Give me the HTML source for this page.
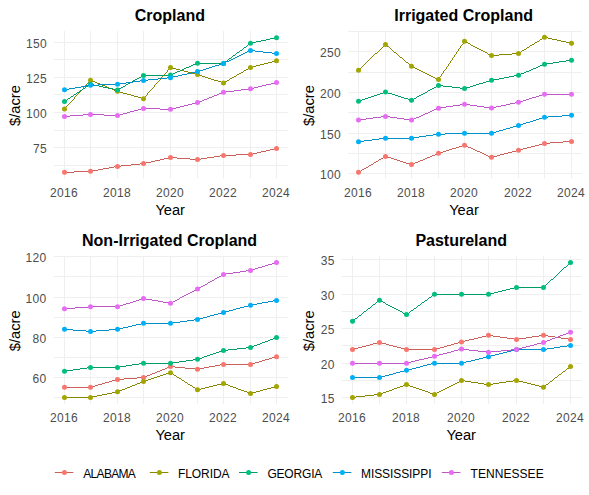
<!DOCTYPE html><html><head><meta charset="utf-8"><style>html,body{margin:0;padding:0;background:#fff;}svg{display:block;}text{font-family:"Liberation Sans",sans-serif;}</style></head><body>
<svg width="589" height="495" viewBox="0 0 589 495">
<rect width="589" height="495" fill="#fff"/>
<g stroke="#EFEFEF" stroke-width="1"><line x1="54" y1="165.5" x2="287.5" y2="165.5"/><line x1="54" y1="130.5" x2="287.5" y2="130.5"/><line x1="54" y1="94.5" x2="287.5" y2="94.5"/><line x1="54" y1="59.5" x2="287.5" y2="59.5"/><line x1="54" y1="147.5" x2="287.5" y2="147.5"/><line x1="54" y1="112.5" x2="287.5" y2="112.5"/><line x1="54" y1="77.5" x2="287.5" y2="77.5"/><line x1="54" y1="42.5" x2="287.5" y2="42.5"/><line x1="64.5" y1="31" x2="64.5" y2="178.5"/><line x1="90.5" y1="31" x2="90.5" y2="178.5"/><line x1="117.5" y1="31" x2="117.5" y2="178.5"/><line x1="143.5" y1="31" x2="143.5" y2="178.5"/><line x1="170.5" y1="31" x2="170.5" y2="178.5"/><line x1="197.5" y1="31" x2="197.5" y2="178.5"/><line x1="223.5" y1="31" x2="223.5" y2="178.5"/><line x1="250.5" y1="31" x2="250.5" y2="178.5"/><line x1="276.5" y1="31" x2="276.5" y2="178.5"/></g>
<path fill="#CB6059" shape-rendering="crispEdges" d="M274 148h3v1h-3zM270 149h4v1h-4zM266 150h4v1h-4zM261 151h5v1h-5zM257 152h4v1h-4zM253 153h4v1h-4zM236 154h17v1h-17zM220 155h16v1h-16zM214 156h6v1h-6zM169 157h8v1h-8zM207 157h7v1h-7zM164 158h5v1h-5zM177 158h13v1h-13zM201 158h6v1h-6zM160 159h4v1h-4zM190 159h11v1h-11zM155 160h5v1h-5zM151 161h4v1h-4zM146 162h5v1h-5zM140 163h6v1h-6zM131 164h9v1h-9zM121 165h10v1h-10zM114 166h7v1h-7zM109 167h5v1h-5zM103 168h6v1h-6zM98 169h5v1h-5zM92 170h6v1h-6zM74 171h18v1h-18zM64 172h10v1h-10z"/>
<path fill="#858700" shape-rendering="crispEdges" d="M276 60h1v1h-1zM272 61h4v1h-4zM268 62h4v1h-4zM264 63h4v1h-4zM260 64h4v1h-4zM256 65h4v1h-4zM253 66h3v1h-3zM170 67h2v1h-2zM250 67h3v1h-3zM169 68h1v1h-1zM172 68h4v1h-4zM248 68h2v1h-2zM168 69h1v1h-1zM176 69h4v1h-4zM246 69h2v1h-2zM167 70h1v1h-1zM180 70h4v1h-4zM244 70h2v1h-2zM167 71h1v1h-1zM184 71h4v1h-4zM243 71h1v1h-1zM166 72h1v1h-1zM188 72h3v1h-3zM241 72h2v1h-2zM165 73h1v1h-1zM191 73h4v1h-4zM239 73h2v1h-2zM164 74h1v1h-1zM195 74h4v1h-4zM237 74h2v1h-2zM163 75h1v1h-1zM199 75h3v1h-3zM236 75h1v1h-1zM162 76h1v1h-1zM202 76h3v1h-3zM234 76h2v1h-2zM161 77h1v1h-1zM205 77h3v1h-3zM232 77h2v1h-2zM160 78h1v1h-1zM208 78h3v1h-3zM230 78h2v1h-2zM160 79h1v1h-1zM211 79h3v1h-3zM229 79h1v1h-1zM90 80h2v1h-2zM159 80h1v1h-1zM214 80h4v1h-4zM227 80h2v1h-2zM89 81h1v1h-1zM92 81h3v1h-3zM158 81h1v1h-1zM218 81h3v1h-3zM225 81h2v1h-2zM88 82h1v1h-1zM95 82h2v1h-2zM157 82h1v1h-1zM221 82h4v1h-4zM87 83h1v1h-1zM97 83h3v1h-3zM156 83h1v1h-1zM86 84h1v1h-1zM100 84h2v1h-2zM155 84h1v1h-1zM85 85h1v1h-1zM102 85h3v1h-3zM154 85h1v1h-1zM84 86h1v1h-1zM105 86h2v1h-2zM154 86h1v1h-1zM83 87h1v1h-1zM107 87h2v1h-2zM153 87h1v1h-1zM83 88h1v1h-1zM109 88h3v1h-3zM152 88h1v1h-1zM82 89h1v1h-1zM112 89h2v1h-2zM151 89h1v1h-1zM81 90h1v1h-1zM114 90h3v1h-3zM150 90h1v1h-1zM80 91h1v1h-1zM117 91h3v1h-3zM149 91h1v1h-1zM79 92h1v1h-1zM120 92h3v1h-3zM148 92h1v1h-1zM78 93h1v1h-1zM123 93h4v1h-4zM147 93h1v1h-1zM77 94h1v1h-1zM127 94h4v1h-4zM147 94h1v1h-1zM76 95h1v1h-1zM131 95h3v1h-3zM146 95h1v1h-1zM75 96h1v1h-1zM134 96h4v1h-4zM145 96h1v1h-1zM74 97h1v1h-1zM138 97h3v1h-3zM144 97h1v1h-1zM74 98h1v1h-1zM141 98h3v1h-3zM73 99h1v1h-1zM72 100h1v1h-1zM71 101h1v1h-1zM70 102h1v1h-1zM69 103h1v1h-1zM68 104h1v1h-1zM67 105h1v1h-1zM66 106h1v1h-1zM65 107h1v1h-1zM65 108h1v1h-1zM64 109h1v1h-1z"/>
<path fill="#009C66" shape-rendering="crispEdges" d="M275 37h2v1h-2zM270 38h5v1h-5zM266 39h4v1h-4zM261 40h5v1h-5zM256 41h5v1h-5zM252 42h4v1h-4zM250 43h2v1h-2zM248 44h2v1h-2zM247 45h1v1h-1zM246 46h1v1h-1zM244 47h2v1h-2zM243 48h1v1h-1zM242 49h1v1h-1zM240 50h2v1h-2zM239 51h1v1h-1zM237 52h2v1h-2zM236 53h1v1h-1zM235 54h1v1h-1zM233 55h2v1h-2zM232 56h1v1h-1zM231 57h1v1h-1zM229 58h2v1h-2zM228 59h1v1h-1zM227 60h1v1h-1zM225 61h2v1h-2zM224 62h1v1h-1zM196 63h28v1h-28zM193 64h3v1h-3zM191 65h2v1h-2zM189 66h2v1h-2zM186 67h3v1h-3zM184 68h2v1h-2zM182 69h2v1h-2zM180 70h2v1h-2zM177 71h3v1h-3zM175 72h2v1h-2zM173 73h2v1h-2zM170 74h3v1h-3zM142 75h28v1h-28zM141 76h1v1h-1zM139 77h2v1h-2zM137 78h2v1h-2zM135 79h2v1h-2zM133 80h2v1h-2zM132 81h1v1h-1zM130 82h2v1h-2zM128 83h2v1h-2zM89 84h5v1h-5zM126 84h2v1h-2zM88 85h1v1h-1zM94 85h5v1h-5zM125 85h1v1h-1zM86 86h2v1h-2zM99 86h4v1h-4zM123 86h2v1h-2zM85 87h1v1h-1zM103 87h5v1h-5zM121 87h2v1h-2zM83 88h2v1h-2zM108 88h5v1h-5zM119 88h2v1h-2zM82 89h1v1h-1zM113 89h6v1h-6zM80 90h2v1h-2zM79 91h1v1h-1zM77 92h2v1h-2zM76 93h1v1h-1zM74 94h2v1h-2zM73 95h1v1h-1zM71 96h2v1h-2zM70 97h1v1h-1zM68 98h2v1h-2zM67 99h1v1h-1zM65 100h2v1h-2zM64 101h1v1h-1z"/>
<path fill="#0090C9" shape-rendering="crispEdges" d="M249 50h6v1h-6zM247 51h2v1h-2zM255 51h8v1h-8zM245 52h2v1h-2zM263 52h9v1h-9zM243 53h2v1h-2zM272 53h5v1h-5zM241 54h2v1h-2zM239 55h2v1h-2zM237 56h2v1h-2zM235 57h2v1h-2zM233 58h2v1h-2zM231 59h2v1h-2zM229 60h2v1h-2zM226 61h3v1h-3zM224 62h2v1h-2zM222 63h2v1h-2zM219 64h3v1h-3zM215 65h4v1h-4zM212 66h3v1h-3zM209 67h3v1h-3zM206 68h3v1h-3zM203 69h3v1h-3zM199 70h4v1h-4zM196 71h3v1h-3zM191 72h5v1h-5zM187 73h4v1h-4zM182 74h5v1h-5zM178 75h4v1h-4zM173 76h5v1h-5zM167 77h6v1h-6zM158 78h9v1h-9zM148 79h10v1h-10zM140 80h8v1h-8zM133 81h7v1h-7zM126 82h7v1h-7zM119 83h7v1h-7zM98 84h21v1h-21zM86 85h12v1h-12zM81 86h5v1h-5zM75 87h6v1h-6zM69 88h6v1h-6zM64 89h5v1h-5z"/>
<path fill="#BD57C7" shape-rendering="crispEdges" d="M275 82h2v1h-2zM271 83h4v1h-4zM266 84h5v1h-5zM262 85h4v1h-4zM258 86h4v1h-4zM254 87h4v1h-4zM249 88h5v1h-5zM241 89h8v1h-8zM234 90h7v1h-7zM226 91h8v1h-8zM222 92h4v1h-4zM219 93h3v1h-3zM217 94h2v1h-2zM214 95h3v1h-3zM212 96h2v1h-2zM209 97h3v1h-3zM207 98h2v1h-2zM204 99h3v1h-3zM202 100h2v1h-2zM199 101h3v1h-3zM196 102h3v1h-3zM192 103h4v1h-4zM188 104h4v1h-4zM184 105h4v1h-4zM180 106h4v1h-4zM176 107h4v1h-4zM141 108h19v1h-19zM172 108h4v1h-4zM138 109h3v1h-3zM160 109h12v1h-12zM134 110h4v1h-4zM130 111h4v1h-4zM127 112h3v1h-3zM123 113h4v1h-4zM83 114h21v1h-21zM120 114h3v1h-3zM70 115h13v1h-13zM104 115h16v1h-16zM64 116h6v1h-6z"/>
<circle cx="64.5" cy="172.35" r="2.5" fill="#F8766D"/><circle cx="90.5" cy="171.36" r="2.5" fill="#F8766D"/><circle cx="117.5" cy="166.43" r="2.5" fill="#F8766D"/><circle cx="143.5" cy="163.61" r="2.5" fill="#F8766D"/><circle cx="170.5" cy="157.56" r="2.5" fill="#F8766D"/><circle cx="197.5" cy="159.53" r="2.5" fill="#F8766D"/><circle cx="223.5" cy="155.44" r="2.5" fill="#F8766D"/><circle cx="250.5" cy="154.46" r="2.5" fill="#F8766D"/><circle cx="276.5" cy="148.54" r="2.5" fill="#F8766D"/>
<circle cx="64.5" cy="109.09" r="2.5" fill="#A3A500"/><circle cx="90.5" cy="80.2" r="2.5" fill="#A3A500"/><circle cx="117.5" cy="91.33" r="2.5" fill="#A3A500"/><circle cx="143.5" cy="98.66" r="2.5" fill="#A3A500"/><circle cx="170.5" cy="67.52" r="2.5" fill="#A3A500"/><circle cx="197.5" cy="74.57" r="2.5" fill="#A3A500"/><circle cx="223.5" cy="82.88" r="2.5" fill="#A3A500"/><circle cx="250.5" cy="67.52" r="2.5" fill="#A3A500"/><circle cx="276.5" cy="60.76" r="2.5" fill="#A3A500"/>
<circle cx="64.5" cy="101.62" r="2.5" fill="#00BF7D"/><circle cx="90.5" cy="84.29" r="2.5" fill="#00BF7D"/><circle cx="117.5" cy="89.92" r="2.5" fill="#00BF7D"/><circle cx="143.5" cy="75.41" r="2.5" fill="#00BF7D"/><circle cx="170.5" cy="74.99" r="2.5" fill="#00BF7D"/><circle cx="197.5" cy="63.15" r="2.5" fill="#00BF7D"/><circle cx="223.5" cy="63.44" r="2.5" fill="#00BF7D"/><circle cx="250.5" cy="43.29" r="2.5" fill="#00BF7D"/><circle cx="276.5" cy="37.65" r="2.5" fill="#00BF7D"/>
<circle cx="64.5" cy="89.78" r="2.5" fill="#00B0F6"/><circle cx="90.5" cy="85.27" r="2.5" fill="#00B0F6"/><circle cx="117.5" cy="84.29" r="2.5" fill="#00B0F6"/><circle cx="143.5" cy="80.48" r="2.5" fill="#00B0F6"/><circle cx="170.5" cy="77.67" r="2.5" fill="#00B0F6"/><circle cx="197.5" cy="71.61" r="2.5" fill="#00B0F6"/><circle cx="223.5" cy="63.44" r="2.5" fill="#00B0F6"/><circle cx="250.5" cy="50.47" r="2.5" fill="#00B0F6"/><circle cx="276.5" cy="53.57" r="2.5" fill="#00B0F6"/>
<circle cx="64.5" cy="116.41" r="2.5" fill="#E76BF3"/><circle cx="90.5" cy="114.44" r="2.5" fill="#E76BF3"/><circle cx="117.5" cy="115.57" r="2.5" fill="#E76BF3"/><circle cx="143.5" cy="108.38" r="2.5" fill="#E76BF3"/><circle cx="170.5" cy="109.37" r="2.5" fill="#E76BF3"/><circle cx="197.5" cy="102.61" r="2.5" fill="#E76BF3"/><circle cx="223.5" cy="92.32" r="2.5" fill="#E76BF3"/><circle cx="250.5" cy="88.8" r="2.5" fill="#E76BF3"/><circle cx="276.5" cy="82.6" r="2.5" fill="#E76BF3"/>
<text x="47" y="153" font-size="12" letter-spacing="0.33" fill="#4D4D4D" text-anchor="end">75</text>
<text x="47" y="118" font-size="12" letter-spacing="0.33" fill="#4D4D4D" text-anchor="end">100</text>
<text x="47" y="83" font-size="12" letter-spacing="0.33" fill="#4D4D4D" text-anchor="end">125</text>
<text x="47" y="48" font-size="12" letter-spacing="0.33" fill="#4D4D4D" text-anchor="end">150</text>
<text x="64.1" y="197" font-size="12" letter-spacing="0.33" fill="#4D4D4D" text-anchor="middle">2016</text>
<text x="117.1" y="197" font-size="12" letter-spacing="0.33" fill="#4D4D4D" text-anchor="middle">2018</text>
<text x="170.1" y="197" font-size="12" letter-spacing="0.33" fill="#4D4D4D" text-anchor="middle">2020</text>
<text x="223.1" y="197" font-size="12" letter-spacing="0.33" fill="#4D4D4D" text-anchor="middle">2022</text>
<text x="276.1" y="197" font-size="12" letter-spacing="0.33" fill="#4D4D4D" text-anchor="middle">2024</text>
<text x="170.2" y="214.7" font-size="14.67" fill="#000" text-anchor="middle">Year</text>
<text transform="translate(19.9,105.55) rotate(-90)" font-size="14.67" fill="#000" text-anchor="middle">$/acre</text>
<text x="169.9" y="21" font-size="16" font-weight="bold" fill="#000" text-anchor="middle">Cropland</text>
<g stroke="#EFEFEF" stroke-width="1"><line x1="348" y1="153.5" x2="582" y2="153.5"/><line x1="348" y1="112.5" x2="582" y2="112.5"/><line x1="348" y1="72.5" x2="582" y2="72.5"/><line x1="348" y1="31.5" x2="582" y2="31.5"/><line x1="348" y1="173.5" x2="582" y2="173.5"/><line x1="348" y1="133.5" x2="582" y2="133.5"/><line x1="348" y1="92.5" x2="582" y2="92.5"/><line x1="348" y1="51.5" x2="582" y2="51.5"/><line x1="358.5" y1="31" x2="358.5" y2="178.5"/><line x1="385.5" y1="31" x2="385.5" y2="178.5"/><line x1="411.5" y1="31" x2="411.5" y2="178.5"/><line x1="438.5" y1="31" x2="438.5" y2="178.5"/><line x1="464.5" y1="31" x2="464.5" y2="178.5"/><line x1="491.5" y1="31" x2="491.5" y2="178.5"/><line x1="518.5" y1="31" x2="518.5" y2="178.5"/><line x1="544.5" y1="31" x2="544.5" y2="178.5"/><line x1="571.5" y1="31" x2="571.5" y2="178.5"/></g>
<path fill="#CB6059" shape-rendering="crispEdges" d="M563 141h9v1h-9zM550 142h13v1h-13zM542 143h8v1h-8zM539 144h3v1h-3zM462 145h4v1h-4zM535 145h4v1h-4zM459 146h3v1h-3zM466 146h2v1h-2zM531 146h4v1h-4zM456 147h3v1h-3zM468 147h3v1h-3zM527 147h4v1h-4zM452 148h4v1h-4zM471 148h2v1h-2zM523 148h4v1h-4zM449 149h3v1h-3zM473 149h2v1h-2zM520 149h3v1h-3zM446 150h3v1h-3zM475 150h2v1h-2zM516 150h4v1h-4zM443 151h3v1h-3zM477 151h3v1h-3zM512 151h4v1h-4zM440 152h3v1h-3zM480 152h2v1h-2zM508 152h4v1h-4zM437 153h3v1h-3zM482 153h2v1h-2zM504 153h4v1h-4zM435 154h2v1h-2zM484 154h2v1h-2zM500 154h4v1h-4zM432 155h3v1h-3zM486 155h2v1h-2zM497 155h3v1h-3zM384 156h3v1h-3zM430 156h2v1h-2zM488 156h3v1h-3zM493 156h4v1h-4zM383 157h1v1h-1zM387 157h4v1h-4zM427 157h3v1h-3zM491 157h2v1h-2zM381 158h2v1h-2zM391 158h3v1h-3zM425 158h2v1h-2zM379 159h2v1h-2zM394 159h3v1h-3zM423 159h2v1h-2zM378 160h1v1h-1zM397 160h3v1h-3zM420 160h3v1h-3zM376 161h2v1h-2zM400 161h3v1h-3zM418 161h2v1h-2zM374 162h2v1h-2zM403 162h3v1h-3zM415 162h3v1h-3zM373 163h1v1h-1zM406 163h4v1h-4zM413 163h2v1h-2zM371 164h2v1h-2zM410 164h3v1h-3zM369 165h2v1h-2zM368 166h1v1h-1zM366 167h2v1h-2zM364 168h2v1h-2zM362 169h2v1h-2zM361 170h1v1h-1zM359 171h2v1h-2zM358 172h1v1h-1z"/>
<path fill="#858700" shape-rendering="crispEdges" d="M543 37h5v1h-5zM542 38h1v1h-1zM548 38h4v1h-4zM540 39h2v1h-2zM552 39h5v1h-5zM539 40h1v1h-1zM557 40h4v1h-4zM464 41h2v1h-2zM537 41h2v1h-2zM561 41h5v1h-5zM463 42h1v1h-1zM466 42h2v1h-2zM535 42h2v1h-2zM566 42h4v1h-4zM463 43h1v1h-1zM468 43h2v1h-2zM534 43h1v1h-1zM570 43h2v1h-2zM385 44h1v1h-1zM462 44h1v1h-1zM470 44h1v1h-1zM532 44h2v1h-2zM384 45h1v1h-1zM386 45h1v1h-1zM461 45h1v1h-1zM471 45h2v1h-2zM530 45h2v1h-2zM383 46h1v1h-1zM387 46h2v1h-2zM460 46h1v1h-1zM473 46h2v1h-2zM529 46h1v1h-1zM382 47h1v1h-1zM389 47h1v1h-1zM460 47h1v1h-1zM475 47h2v1h-2zM527 47h2v1h-2zM381 48h1v1h-1zM390 48h1v1h-1zM459 48h1v1h-1zM477 48h2v1h-2zM526 48h1v1h-1zM380 49h1v1h-1zM391 49h1v1h-1zM458 49h1v1h-1zM479 49h2v1h-2zM524 49h2v1h-2zM379 50h1v1h-1zM392 50h1v1h-1zM458 50h1v1h-1zM481 50h2v1h-2zM522 50h2v1h-2zM378 51h1v1h-1zM393 51h1v1h-1zM457 51h1v1h-1zM483 51h2v1h-2zM521 51h1v1h-1zM377 52h1v1h-1zM394 52h2v1h-2zM456 52h1v1h-1zM485 52h2v1h-2zM519 52h2v1h-2zM375 53h2v1h-2zM396 53h1v1h-1zM456 53h1v1h-1zM487 53h1v1h-1zM512 53h7v1h-7zM374 54h1v1h-1zM397 54h1v1h-1zM455 54h1v1h-1zM488 54h2v1h-2zM499 54h13v1h-13zM373 55h1v1h-1zM398 55h1v1h-1zM454 55h1v1h-1zM490 55h9v1h-9zM372 56h1v1h-1zM399 56h1v1h-1zM454 56h1v1h-1zM371 57h1v1h-1zM400 57h2v1h-2zM453 57h1v1h-1zM370 58h1v1h-1zM402 58h1v1h-1zM452 58h1v1h-1zM369 59h1v1h-1zM403 59h1v1h-1zM452 59h1v1h-1zM368 60h1v1h-1zM404 60h1v1h-1zM451 60h1v1h-1zM367 61h1v1h-1zM405 61h1v1h-1zM450 61h1v1h-1zM366 62h1v1h-1zM406 62h2v1h-2zM450 62h1v1h-1zM365 63h1v1h-1zM408 63h1v1h-1zM449 63h1v1h-1zM364 64h1v1h-1zM409 64h1v1h-1zM448 64h1v1h-1zM363 65h1v1h-1zM410 65h1v1h-1zM448 65h1v1h-1zM362 66h1v1h-1zM411 66h2v1h-2zM447 66h1v1h-1zM361 67h1v1h-1zM413 67h2v1h-2zM446 67h1v1h-1zM360 68h1v1h-1zM415 68h2v1h-2zM446 68h1v1h-1zM359 69h1v1h-1zM417 69h2v1h-2zM445 69h1v1h-1zM358 70h1v1h-1zM419 70h2v1h-2zM444 70h1v1h-1zM421 71h2v1h-2zM443 71h1v1h-1zM423 72h2v1h-2zM443 72h1v1h-1zM425 73h2v1h-2zM442 73h1v1h-1zM427 74h2v1h-2zM441 74h1v1h-1zM429 75h2v1h-2zM441 75h1v1h-1zM431 76h2v1h-2zM440 76h1v1h-1zM433 77h2v1h-2zM439 77h1v1h-1zM435 78h2v1h-2zM439 78h1v1h-1zM437 79h2v1h-2z"/>
<path fill="#009C66" shape-rendering="crispEdges" d="M566 60h6v1h-6zM559 61h7v1h-7zM553 62h6v1h-6zM546 63h7v1h-7zM543 64h3v1h-3zM540 65h3v1h-3zM538 66h2v1h-2zM536 67h2v1h-2zM533 68h3v1h-3zM531 69h2v1h-2zM529 70h2v1h-2zM526 71h3v1h-3zM524 72h2v1h-2zM521 73h3v1h-3zM519 74h2v1h-2zM514 75h5v1h-5zM509 76h5v1h-5zM504 77h5v1h-5zM499 78h5v1h-5zM493 79h6v1h-6zM489 80h4v1h-4zM486 81h3v1h-3zM483 82h3v1h-3zM479 83h4v1h-4zM476 84h3v1h-3zM437 85h6v1h-6zM473 85h3v1h-3zM436 86h1v1h-1zM443 86h9v1h-9zM470 86h3v1h-3zM434 87h2v1h-2zM452 87h8v1h-8zM466 87h4v1h-4zM432 88h2v1h-2zM460 88h6v1h-6zM430 89h2v1h-2zM428 90h2v1h-2zM427 91h1v1h-1zM383 92h5v1h-5zM425 92h2v1h-2zM380 93h3v1h-3zM388 93h4v1h-4zM423 93h2v1h-2zM377 94h3v1h-3zM392 94h3v1h-3zM421 94h2v1h-2zM374 95h3v1h-3zM395 95h3v1h-3zM419 95h2v1h-2zM371 96h3v1h-3zM398 96h3v1h-3zM417 96h2v1h-2zM368 97h3v1h-3zM401 97h3v1h-3zM416 97h1v1h-1zM365 98h3v1h-3zM404 98h4v1h-4zM414 98h2v1h-2zM362 99h3v1h-3zM408 99h3v1h-3zM412 99h2v1h-2zM359 100h3v1h-3zM411 100h1v1h-1zM358 101h1v1h-1z"/>
<path fill="#0090C9" shape-rendering="crispEdges" d="M562 115h10v1h-10zM548 116h14v1h-14zM542 117h6v1h-6zM539 118h3v1h-3zM536 119h3v1h-3zM533 120h3v1h-3zM530 121h3v1h-3zM526 122h4v1h-4zM523 123h3v1h-3zM520 124h3v1h-3zM517 125h3v1h-3zM513 126h4v1h-4zM510 127h3v1h-3zM506 128h4v1h-4zM503 129h3v1h-3zM499 130h4v1h-4zM496 131h3v1h-3zM492 132h4v1h-4zM445 133h47v1h-47zM433 134h12v1h-12zM426 135h7v1h-7zM419 136h7v1h-7zM412 137h7v1h-7zM379 138h33v1h-33zM372 139h7v1h-7zM364 140h8v1h-8zM358 141h6v1h-6z"/>
<path fill="#BD57C7" shape-rendering="crispEdges" d="M542 94h30v1h-30zM539 95h3v1h-3zM536 96h3v1h-3zM532 97h4v1h-4zM529 98h3v1h-3zM526 99h3v1h-3zM523 100h3v1h-3zM519 101h4v1h-4zM515 102h4v1h-4zM510 103h5v1h-5zM460 104h10v1h-10zM506 104h4v1h-4zM453 105h7v1h-7zM470 105h7v1h-7zM501 105h5v1h-5zM446 106h7v1h-7zM477 106h7v1h-7zM496 106h5v1h-5zM440 107h6v1h-6zM484 107h12v1h-12zM437 108h3v1h-3zM434 109h3v1h-3zM432 110h2v1h-2zM430 111h2v1h-2zM428 112h2v1h-2zM425 113h3v1h-3zM423 114h2v1h-2zM421 115h2v1h-2zM381 116h9v1h-9zM419 116h2v1h-2zM373 117h8v1h-8zM390 117h7v1h-7zM416 117h3v1h-3zM366 118h7v1h-7zM397 118h7v1h-7zM414 118h2v1h-2zM358 119h8v1h-8zM404 119h7v1h-7zM412 119h2v1h-2zM411 120h1v1h-1z"/>
<circle cx="358.5" cy="172.35" r="2.5" fill="#F8766D"/><circle cx="385.5" cy="156.38" r="2.5" fill="#F8766D"/><circle cx="411.5" cy="164.61" r="2.5" fill="#F8766D"/><circle cx="438.5" cy="153.36" r="2.5" fill="#F8766D"/><circle cx="464.5" cy="145.22" r="2.5" fill="#F8766D"/><circle cx="491.5" cy="157.36" r="2.5" fill="#F8766D"/><circle cx="518.5" cy="150.27" r="2.5" fill="#F8766D"/><circle cx="544.5" cy="143.42" r="2.5" fill="#F8766D"/><circle cx="571.5" cy="141.39" r="2.5" fill="#F8766D"/>
<circle cx="358.5" cy="70.18" r="2.5" fill="#A3A500"/><circle cx="385.5" cy="44.44" r="2.5" fill="#A3A500"/><circle cx="411.5" cy="66.35" r="2.5" fill="#A3A500"/><circle cx="438.5" cy="79.55" r="2.5" fill="#A3A500"/><circle cx="464.5" cy="41.34" r="2.5" fill="#A3A500"/><circle cx="491.5" cy="55.6" r="2.5" fill="#A3A500"/><circle cx="518.5" cy="53.48" r="2.5" fill="#A3A500"/><circle cx="544.5" cy="37.27" r="2.5" fill="#A3A500"/><circle cx="571.5" cy="43.3" r="2.5" fill="#A3A500"/>
<circle cx="358.5" cy="101.22" r="2.5" fill="#00BF7D"/><circle cx="385.5" cy="92.1" r="2.5" fill="#00BF7D"/><circle cx="411.5" cy="100.24" r="2.5" fill="#00BF7D"/><circle cx="438.5" cy="85.42" r="2.5" fill="#00BF7D"/><circle cx="464.5" cy="88.51" r="2.5" fill="#00BF7D"/><circle cx="491.5" cy="80.37" r="2.5" fill="#00BF7D"/><circle cx="518.5" cy="75.23" r="2.5" fill="#00BF7D"/><circle cx="544.5" cy="64.24" r="2.5" fill="#00BF7D"/><circle cx="571.5" cy="60.16" r="2.5" fill="#00BF7D"/>
<circle cx="358.5" cy="141.79" r="2.5" fill="#00B0F6"/><circle cx="385.5" cy="138.13" r="2.5" fill="#00B0F6"/><circle cx="411.5" cy="138.13" r="2.5" fill="#00B0F6"/><circle cx="438.5" cy="134.22" r="2.5" fill="#00B0F6"/><circle cx="464.5" cy="133.32" r="2.5" fill="#00B0F6"/><circle cx="491.5" cy="133.16" r="2.5" fill="#00B0F6"/><circle cx="518.5" cy="125.5" r="2.5" fill="#00B0F6"/><circle cx="544.5" cy="117.27" r="2.5" fill="#00B0F6"/><circle cx="571.5" cy="115.32" r="2.5" fill="#00B0F6"/>
<circle cx="358.5" cy="119.96" r="2.5" fill="#E76BF3"/><circle cx="385.5" cy="116.38" r="2.5" fill="#E76BF3"/><circle cx="411.5" cy="120.12" r="2.5" fill="#E76BF3"/><circle cx="438.5" cy="108.15" r="2.5" fill="#E76BF3"/><circle cx="464.5" cy="104.32" r="2.5" fill="#E76BF3"/><circle cx="491.5" cy="107.98" r="2.5" fill="#E76BF3"/><circle cx="518.5" cy="102.28" r="2.5" fill="#E76BF3"/><circle cx="544.5" cy="94.3" r="2.5" fill="#E76BF3"/><circle cx="571.5" cy="94.3" r="2.5" fill="#E76BF3"/>
<text x="341" y="179" font-size="12" letter-spacing="0.33" fill="#4D4D4D" text-anchor="end">100</text>
<text x="341" y="139" font-size="12" letter-spacing="0.33" fill="#4D4D4D" text-anchor="end">150</text>
<text x="341" y="98" font-size="12" letter-spacing="0.33" fill="#4D4D4D" text-anchor="end">200</text>
<text x="341" y="57" font-size="12" letter-spacing="0.33" fill="#4D4D4D" text-anchor="end">250</text>
<text x="358.1" y="197" font-size="12" letter-spacing="0.33" fill="#4D4D4D" text-anchor="middle">2016</text>
<text x="411.1" y="197" font-size="12" letter-spacing="0.33" fill="#4D4D4D" text-anchor="middle">2018</text>
<text x="464.1" y="197" font-size="12" letter-spacing="0.33" fill="#4D4D4D" text-anchor="middle">2020</text>
<text x="518.1" y="197" font-size="12" letter-spacing="0.33" fill="#4D4D4D" text-anchor="middle">2022</text>
<text x="571.1" y="197" font-size="12" letter-spacing="0.33" fill="#4D4D4D" text-anchor="middle">2024</text>
<text x="464" y="214.7" font-size="14.67" fill="#000" text-anchor="middle">Year</text>
<text transform="translate(313.9,105.55) rotate(-90)" font-size="14.67" fill="#000" text-anchor="middle">$/acre</text>
<text x="463.6" y="21" font-size="16" font-weight="bold" fill="#000" text-anchor="middle">Irrigated Cropland</text>
<g stroke="#EFEFEF" stroke-width="1"><line x1="53.5" y1="397.5" x2="287.5" y2="397.5"/><line x1="53.5" y1="357.5" x2="287.5" y2="357.5"/><line x1="53.5" y1="317.5" x2="287.5" y2="317.5"/><line x1="53.5" y1="276.5" x2="287.5" y2="276.5"/><line x1="53.5" y1="377.5" x2="287.5" y2="377.5"/><line x1="53.5" y1="337.5" x2="287.5" y2="337.5"/><line x1="53.5" y1="297.5" x2="287.5" y2="297.5"/><line x1="53.5" y1="256.5" x2="287.5" y2="256.5"/><line x1="64.5" y1="256" x2="64.5" y2="404"/><line x1="90.5" y1="256" x2="90.5" y2="404"/><line x1="117.5" y1="256" x2="117.5" y2="404"/><line x1="143.5" y1="256" x2="143.5" y2="404"/><line x1="170.5" y1="256" x2="170.5" y2="404"/><line x1="197.5" y1="256" x2="197.5" y2="404"/><line x1="223.5" y1="256" x2="223.5" y2="404"/><line x1="250.5" y1="256" x2="250.5" y2="404"/><line x1="276.5" y1="256" x2="276.5" y2="404"/></g>
<path fill="#CB6059" shape-rendering="crispEdges" d="M276 356h1v1h-1zM272 357h4v1h-4zM269 358h3v1h-3zM265 359h4v1h-4zM262 360h3v1h-3zM259 361h3v1h-3zM255 362h4v1h-4zM252 363h3v1h-3zM220 364h32v1h-32zM215 365h5v1h-5zM170 366h5v1h-5zM209 366h6v1h-6zM167 367h3v1h-3zM175 367h10v1h-10zM204 367h5v1h-5zM165 368h2v1h-2zM185 368h10v1h-10zM199 368h5v1h-5zM162 369h3v1h-3zM195 369h4v1h-4zM160 370h2v1h-2zM157 371h3v1h-3zM155 372h2v1h-2zM152 373h3v1h-3zM150 374h2v1h-2zM147 375h3v1h-3zM145 376h2v1h-2zM137 377h8v1h-8zM124 378h13v1h-13zM116 379h8v1h-8zM112 380h4v1h-4zM109 381h3v1h-3zM105 382h4v1h-4zM102 383h3v1h-3zM98 384h4v1h-4zM95 385h3v1h-3zM91 386h4v1h-4zM64 387h27v1h-27z"/>
<path fill="#858700" shape-rendering="crispEdges" d="M169 372h2v1h-2zM166 373h3v1h-3zM171 373h2v1h-2zM163 374h3v1h-3zM173 374h1v1h-1zM160 375h3v1h-3zM174 375h2v1h-2zM157 376h3v1h-3zM176 376h1v1h-1zM154 377h3v1h-3zM177 377h2v1h-2zM151 378h3v1h-3zM179 378h2v1h-2zM148 379h3v1h-3zM181 379h1v1h-1zM145 380h3v1h-3zM182 380h2v1h-2zM142 381h3v1h-3zM184 381h1v1h-1zM140 382h2v1h-2zM185 382h2v1h-2zM137 383h3v1h-3zM187 383h1v1h-1zM222 383h3v1h-3zM135 384h2v1h-2zM188 384h2v1h-2zM217 384h5v1h-5zM225 384h3v1h-3zM132 385h3v1h-3zM190 385h2v1h-2zM213 385h4v1h-4zM228 385h2v1h-2zM130 386h2v1h-2zM192 386h1v1h-1zM209 386h4v1h-4zM230 386h3v1h-3zM275 386h2v1h-2zM127 387h3v1h-3zM193 387h2v1h-2zM205 387h4v1h-4zM233 387h3v1h-3zM271 387h4v1h-4zM125 388h2v1h-2zM195 388h1v1h-1zM201 388h4v1h-4zM236 388h2v1h-2zM267 388h4v1h-4zM122 389h3v1h-3zM196 389h5v1h-5zM238 389h3v1h-3zM263 389h4v1h-4zM119 390h3v1h-3zM241 390h3v1h-3zM260 390h3v1h-3zM116 391h3v1h-3zM244 391h3v1h-3zM256 391h4v1h-4zM112 392h4v1h-4zM247 392h2v1h-2zM252 392h4v1h-4zM107 393h5v1h-5zM249 393h3v1h-3zM102 394h5v1h-5zM97 395h5v1h-5zM92 396h5v1h-5zM64 397h28v1h-28z"/>
<path fill="#009C66" shape-rendering="crispEdges" d="M276 337h1v1h-1zM273 338h3v1h-3zM270 339h3v1h-3zM268 340h2v1h-2zM265 341h3v1h-3zM262 342h3v1h-3zM260 343h2v1h-2zM257 344h3v1h-3zM254 345h3v1h-3zM252 346h2v1h-2zM246 347h6v1h-6zM237 348h9v1h-9zM228 349h9v1h-9zM222 350h6v1h-6zM219 351h3v1h-3zM216 352h3v1h-3zM213 353h3v1h-3zM210 354h3v1h-3zM207 355h3v1h-3zM204 356h3v1h-3zM202 357h2v1h-2zM199 358h3v1h-3zM193 359h6v1h-6zM186 360h7v1h-7zM179 361h7v1h-7zM172 362h7v1h-7zM139 363h33v1h-33zM132 364h7v1h-7zM126 365h6v1h-6zM120 366h6v1h-6zM87 367h33v1h-33zM80 368h7v1h-7zM73 369h7v1h-7zM66 370h7v1h-7zM64 371h2v1h-2z"/>
<path fill="#0090C9" shape-rendering="crispEdges" d="M273 300h4v1h-4zM268 301h5v1h-5zM262 302h6v1h-6zM257 303h5v1h-5zM252 304h5v1h-5zM248 305h4v1h-4zM244 306h4v1h-4zM240 307h4v1h-4zM236 308h4v1h-4zM233 309h3v1h-3zM229 310h4v1h-4zM225 311h4v1h-4zM222 312h3v1h-3zM218 313h4v1h-4zM214 314h4v1h-4zM210 315h4v1h-4zM207 316h3v1h-3zM203 317h4v1h-4zM199 318h4v1h-4zM194 319h5v1h-5zM187 320h7v1h-7zM180 321h7v1h-7zM173 322h7v1h-7zM141 323h32v1h-32zM136 324h5v1h-5zM132 325h4v1h-4zM128 326h4v1h-4zM123 327h5v1h-5zM119 328h4v1h-4zM64 329h9v1h-9zM109 329h10v1h-10zM73 330h13v1h-13zM96 330h13v1h-13zM86 331h10v1h-10z"/>
<path fill="#BD57C7" shape-rendering="crispEdges" d="M275 262h2v1h-2zM272 263h3v1h-3zM268 264h4v1h-4zM265 265h3v1h-3zM262 266h3v1h-3zM258 267h4v1h-4zM255 268h3v1h-3zM252 269h3v1h-3zM246 270h6v1h-6zM240 271h6v1h-6zM233 272h7v1h-7zM226 273h7v1h-7zM222 274h4v1h-4zM221 275h1v1h-1zM219 276h2v1h-2zM217 277h2v1h-2zM215 278h2v1h-2zM214 279h1v1h-1zM212 280h2v1h-2zM210 281h2v1h-2zM208 282h2v1h-2zM207 283h1v1h-1zM205 284h2v1h-2zM203 285h2v1h-2zM201 286h2v1h-2zM199 287h2v1h-2zM198 288h1v1h-1zM196 289h2v1h-2zM194 290h2v1h-2zM192 291h2v1h-2zM190 292h2v1h-2zM188 293h2v1h-2zM186 294h2v1h-2zM184 295h2v1h-2zM182 296h2v1h-2zM180 297h2v1h-2zM142 298h4v1h-4zM179 298h1v1h-1zM139 299h3v1h-3zM146 299h6v1h-6zM177 299h2v1h-2zM136 300h3v1h-3zM152 300h6v1h-6zM175 300h2v1h-2zM133 301h3v1h-3zM158 301h5v1h-5zM173 301h2v1h-2zM130 302h3v1h-3zM163 302h6v1h-6zM171 302h2v1h-2zM126 303h4v1h-4zM169 303h2v1h-2zM123 304h3v1h-3zM120 305h3v1h-3zM88 306h32v1h-32zM75 307h13v1h-13zM64 308h11v1h-11z"/>
<circle cx="64.5" cy="387.14" r="2.5" fill="#F8766D"/><circle cx="90.5" cy="387.14" r="2.5" fill="#F8766D"/><circle cx="117.5" cy="379.49" r="2.5" fill="#F8766D"/><circle cx="143.5" cy="377.48" r="2.5" fill="#F8766D"/><circle cx="170.5" cy="366.61" r="2.5" fill="#F8766D"/><circle cx="197.5" cy="369.23" r="2.5" fill="#F8766D"/><circle cx="223.5" cy="364.4" r="2.5" fill="#F8766D"/><circle cx="250.5" cy="364.4" r="2.5" fill="#F8766D"/><circle cx="276.5" cy="356.75" r="2.5" fill="#F8766D"/>
<circle cx="64.5" cy="397.41" r="2.5" fill="#A3A500"/><circle cx="90.5" cy="397.41" r="2.5" fill="#A3A500"/><circle cx="117.5" cy="391.77" r="2.5" fill="#A3A500"/><circle cx="143.5" cy="381.51" r="2.5" fill="#A3A500"/><circle cx="170.5" cy="372.65" r="2.5" fill="#A3A500"/><circle cx="197.5" cy="389.76" r="2.5" fill="#A3A500"/><circle cx="223.5" cy="383.52" r="2.5" fill="#A3A500"/><circle cx="250.5" cy="393.38" r="2.5" fill="#A3A500"/><circle cx="276.5" cy="386.54" r="2.5" fill="#A3A500"/>
<circle cx="64.5" cy="371.24" r="2.5" fill="#00BF7D"/><circle cx="90.5" cy="367.42" r="2.5" fill="#00BF7D"/><circle cx="117.5" cy="367.42" r="2.5" fill="#00BF7D"/><circle cx="143.5" cy="363.19" r="2.5" fill="#00BF7D"/><circle cx="170.5" cy="363.19" r="2.5" fill="#00BF7D"/><circle cx="197.5" cy="359.36" r="2.5" fill="#00BF7D"/><circle cx="223.5" cy="350.51" r="2.5" fill="#00BF7D"/><circle cx="250.5" cy="347.49" r="2.5" fill="#00BF7D"/><circle cx="276.5" cy="337.62" r="2.5" fill="#00BF7D"/>
<circle cx="64.5" cy="329.37" r="2.5" fill="#00B0F6"/><circle cx="90.5" cy="331.38" r="2.5" fill="#00B0F6"/><circle cx="117.5" cy="329.37" r="2.5" fill="#00B0F6"/><circle cx="143.5" cy="323.33" r="2.5" fill="#00B0F6"/><circle cx="170.5" cy="323.33" r="2.5" fill="#00B0F6"/><circle cx="197.5" cy="319.51" r="2.5" fill="#00B0F6"/><circle cx="223.5" cy="312.46" r="2.5" fill="#00B0F6"/><circle cx="250.5" cy="305.21" r="2.5" fill="#00B0F6"/><circle cx="276.5" cy="300.38" r="2.5" fill="#00B0F6"/>
<circle cx="64.5" cy="308.84" r="2.5" fill="#E76BF3"/><circle cx="90.5" cy="306.82" r="2.5" fill="#E76BF3"/><circle cx="117.5" cy="306.82" r="2.5" fill="#E76BF3"/><circle cx="143.5" cy="298.57" r="2.5" fill="#E76BF3"/><circle cx="170.5" cy="303.2" r="2.5" fill="#E76BF3"/><circle cx="197.5" cy="289.11" r="2.5" fill="#E76BF3"/><circle cx="223.5" cy="274.42" r="2.5" fill="#E76BF3"/><circle cx="250.5" cy="270.39" r="2.5" fill="#E76BF3"/><circle cx="276.5" cy="262.54" r="2.5" fill="#E76BF3"/>
<text x="46.5" y="383" font-size="12" letter-spacing="0.33" fill="#4D4D4D" text-anchor="end">60</text>
<text x="46.5" y="343" font-size="12" letter-spacing="0.33" fill="#4D4D4D" text-anchor="end">80</text>
<text x="46.5" y="303" font-size="12" letter-spacing="0.33" fill="#4D4D4D" text-anchor="end">100</text>
<text x="46.5" y="262" font-size="12" letter-spacing="0.33" fill="#4D4D4D" text-anchor="end">120</text>
<text x="64.1" y="422" font-size="12" letter-spacing="0.33" fill="#4D4D4D" text-anchor="middle">2016</text>
<text x="117.1" y="422" font-size="12" letter-spacing="0.33" fill="#4D4D4D" text-anchor="middle">2018</text>
<text x="170.1" y="422" font-size="12" letter-spacing="0.33" fill="#4D4D4D" text-anchor="middle">2020</text>
<text x="223.1" y="422" font-size="12" letter-spacing="0.33" fill="#4D4D4D" text-anchor="middle">2022</text>
<text x="276.1" y="422" font-size="12" letter-spacing="0.33" fill="#4D4D4D" text-anchor="middle">2024</text>
<text x="170.2" y="440.2" font-size="14.67" fill="#000" text-anchor="middle">Year</text>
<text transform="translate(19.9,330.8) rotate(-90)" font-size="14.67" fill="#000" text-anchor="middle">$/acre</text>
<text x="169.6" y="245.8" font-size="16" font-weight="bold" fill="#000" text-anchor="middle">Non-Irrigated Cropland</text>
<g stroke="#EFEFEF" stroke-width="1"><line x1="341.7" y1="380.5" x2="581.5" y2="380.5"/><line x1="341.7" y1="345.5" x2="581.5" y2="345.5"/><line x1="341.7" y1="311.5" x2="581.5" y2="311.5"/><line x1="341.7" y1="276.5" x2="581.5" y2="276.5"/><line x1="341.7" y1="397.5" x2="581.5" y2="397.5"/><line x1="341.7" y1="363.5" x2="581.5" y2="363.5"/><line x1="341.7" y1="328.5" x2="581.5" y2="328.5"/><line x1="341.7" y1="294.5" x2="581.5" y2="294.5"/><line x1="341.7" y1="259.5" x2="581.5" y2="259.5"/><line x1="352.5" y1="256" x2="352.5" y2="404"/><line x1="379.5" y1="256" x2="379.5" y2="404"/><line x1="406.5" y1="256" x2="406.5" y2="404"/><line x1="434.5" y1="256" x2="434.5" y2="404"/><line x1="461.5" y1="256" x2="461.5" y2="404"/><line x1="488.5" y1="256" x2="488.5" y2="404"/><line x1="516.5" y1="256" x2="516.5" y2="404"/><line x1="543.5" y1="256" x2="543.5" y2="404"/><line x1="570.5" y1="256" x2="570.5" y2="404"/></g>
<path fill="#CB6059" shape-rendering="crispEdges" d="M486 335h7v1h-7zM539 335h9v1h-9zM482 336h4v1h-4zM493 336h7v1h-7zM532 336h7v1h-7zM548 336h7v1h-7zM478 337h4v1h-4zM500 337h7v1h-7zM526 337h6v1h-6zM555 337h6v1h-6zM474 338h4v1h-4zM507 338h7v1h-7zM519 338h7v1h-7zM561 338h7v1h-7zM469 339h5v1h-5zM514 339h5v1h-5zM568 339h3v1h-3zM465 340h4v1h-4zM461 341h4v1h-4zM377 342h5v1h-5zM458 342h3v1h-3zM373 343h4v1h-4zM382 343h4v1h-4zM454 343h4v1h-4zM370 344h3v1h-3zM386 344h3v1h-3zM451 344h3v1h-3zM366 345h4v1h-4zM389 345h4v1h-4zM447 345h4v1h-4zM362 346h4v1h-4zM393 346h4v1h-4zM444 346h3v1h-3zM358 347h4v1h-4zM397 347h4v1h-4zM440 347h4v1h-4zM354 348h4v1h-4zM401 348h4v1h-4zM436 348h4v1h-4zM352 349h2v1h-2zM405 349h31v1h-31z"/>
<path fill="#858700" shape-rendering="crispEdges" d="M570 366h1v1h-1zM569 367h1v1h-1zM567 368h2v1h-2zM566 369h1v1h-1zM565 370h1v1h-1zM563 371h2v1h-2zM562 372h1v1h-1zM561 373h1v1h-1zM559 374h2v1h-2zM558 375h1v1h-1zM557 376h1v1h-1zM555 377h2v1h-2zM554 378h1v1h-1zM553 379h1v1h-1zM460 380h5v1h-5zM513 380h6v1h-6zM552 380h1v1h-1zM459 381h1v1h-1zM465 381h6v1h-6zM506 381h7v1h-7zM519 381h4v1h-4zM550 381h2v1h-2zM457 382h2v1h-2zM471 382h7v1h-7zM499 382h7v1h-7zM523 382h4v1h-4zM549 382h1v1h-1zM455 383h2v1h-2zM478 383h6v1h-6zM493 383h6v1h-6zM527 383h4v1h-4zM548 383h1v1h-1zM405 384h3v1h-3zM453 384h2v1h-2zM484 384h9v1h-9zM531 384h4v1h-4zM546 384h2v1h-2zM403 385h2v1h-2zM408 385h2v1h-2zM451 385h2v1h-2zM535 385h4v1h-4zM545 385h1v1h-1zM400 386h3v1h-3zM410 386h3v1h-3zM449 386h2v1h-2zM539 386h4v1h-4zM544 386h1v1h-1zM397 387h3v1h-3zM413 387h3v1h-3zM447 387h2v1h-2zM543 387h1v1h-1zM394 388h3v1h-3zM416 388h3v1h-3zM445 388h2v1h-2zM392 389h2v1h-2zM419 389h3v1h-3zM443 389h2v1h-2zM389 390h3v1h-3zM422 390h3v1h-3zM441 390h2v1h-2zM386 391h3v1h-3zM425 391h3v1h-3zM439 391h2v1h-2zM383 392h3v1h-3zM428 392h2v1h-2zM437 392h2v1h-2zM381 393h2v1h-2zM430 393h3v1h-3zM435 393h2v1h-2zM374 394h7v1h-7zM433 394h2v1h-2zM365 395h9v1h-9zM356 396h9v1h-9zM352 397h4v1h-4z"/>
<path fill="#009C66" shape-rendering="crispEdges" d="M570 262h1v1h-1zM569 263h1v1h-1zM568 264h1v1h-1zM567 265h1v1h-1zM566 266h1v1h-1zM564 267h2v1h-2zM563 268h1v1h-1zM562 269h1v1h-1zM561 270h1v1h-1zM560 271h1v1h-1zM559 272h1v1h-1zM558 273h1v1h-1zM557 274h1v1h-1zM556 275h1v1h-1zM555 276h1v1h-1zM554 277h1v1h-1zM553 278h1v1h-1zM551 279h2v1h-2zM550 280h1v1h-1zM549 281h1v1h-1zM548 282h1v1h-1zM547 283h1v1h-1zM546 284h1v1h-1zM545 285h1v1h-1zM544 286h1v1h-1zM514 287h30v1h-30zM510 288h4v1h-4zM506 289h4v1h-4zM502 290h4v1h-4zM498 291h4v1h-4zM494 292h4v1h-4zM489 293h5v1h-5zM433 294h56v1h-56zM432 295h1v1h-1zM431 296h1v1h-1zM429 297h2v1h-2zM428 298h1v1h-1zM427 299h1v1h-1zM379 300h2v1h-2zM425 300h2v1h-2zM377 301h2v1h-2zM381 301h2v1h-2zM424 301h1v1h-1zM376 302h1v1h-1zM383 302h2v1h-2zM422 302h2v1h-2zM375 303h1v1h-1zM385 303h1v1h-1zM421 303h1v1h-1zM373 304h2v1h-2zM386 304h2v1h-2zM420 304h1v1h-1zM372 305h1v1h-1zM388 305h2v1h-2zM418 305h2v1h-2zM371 306h1v1h-1zM390 306h2v1h-2zM417 306h1v1h-1zM370 307h1v1h-1zM392 307h2v1h-2zM416 307h1v1h-1zM368 308h2v1h-2zM394 308h2v1h-2zM414 308h2v1h-2zM367 309h1v1h-1zM396 309h2v1h-2zM413 309h1v1h-1zM366 310h1v1h-1zM398 310h2v1h-2zM411 310h2v1h-2zM364 311h2v1h-2zM400 311h2v1h-2zM410 311h1v1h-1zM363 312h1v1h-1zM402 312h1v1h-1zM409 312h1v1h-1zM362 313h1v1h-1zM403 313h2v1h-2zM407 313h2v1h-2zM361 314h1v1h-1zM405 314h2v1h-2zM359 315h2v1h-2zM358 316h1v1h-1zM357 317h1v1h-1zM355 318h2v1h-2zM354 319h1v1h-1zM353 320h1v1h-1zM352 321h1v1h-1z"/>
<path fill="#0090C9" shape-rendering="crispEdges" d="M567 345h4v1h-4zM560 346h7v1h-7zM554 347h6v1h-6zM547 348h7v1h-7zM515 349h32v1h-32zM511 350h4v1h-4zM507 351h4v1h-4zM503 352h4v1h-4zM499 353h4v1h-4zM495 354h4v1h-4zM491 355h4v1h-4zM487 356h4v1h-4zM483 357h4v1h-4zM479 358h4v1h-4zM475 359h4v1h-4zM471 360h4v1h-4zM466 361h5v1h-5zM462 362h4v1h-4zM431 363h31v1h-31zM427 364h4v1h-4zM423 365h4v1h-4zM420 366h3v1h-3zM416 367h4v1h-4zM412 368h4v1h-4zM408 369h4v1h-4zM404 370h4v1h-4zM400 371h4v1h-4zM396 372h4v1h-4zM393 373h3v1h-3zM389 374h4v1h-4zM385 375h4v1h-4zM381 376h4v1h-4zM352 377h29v1h-29z"/>
<path fill="#BD57C7" shape-rendering="crispEdges" d="M568 332h3v1h-3zM566 333h2v1h-2zM563 334h3v1h-3zM560 335h3v1h-3zM558 336h2v1h-2zM555 337h3v1h-3zM552 338h3v1h-3zM550 339h2v1h-2zM547 340h3v1h-3zM545 341h2v1h-2zM541 342h4v1h-4zM537 343h4v1h-4zM534 344h3v1h-3zM530 345h4v1h-4zM526 346h4v1h-4zM522 347h4v1h-4zM518 348h4v1h-4zM458 349h11v1h-11zM511 349h7v1h-7zM454 350h4v1h-4zM469 350h9v1h-9zM501 350h10v1h-10zM451 351h3v1h-3zM478 351h9v1h-9zM491 351h10v1h-10zM447 352h4v1h-4zM487 352h4v1h-4zM443 353h4v1h-4zM439 354h4v1h-4zM436 355h3v1h-3zM432 356h4v1h-4zM428 357h4v1h-4zM424 358h4v1h-4zM419 359h5v1h-5zM415 360h4v1h-4zM411 361h4v1h-4zM407 362h4v1h-4zM352 363h55v1h-55z"/>
<circle cx="352.5" cy="349.51" r="2.5" fill="#F8766D"/><circle cx="379.5" cy="342.4" r="2.5" fill="#F8766D"/><circle cx="406.5" cy="349.51" r="2.5" fill="#F8766D"/><circle cx="434.5" cy="349.51" r="2.5" fill="#F8766D"/><circle cx="461.5" cy="341.98" r="2.5" fill="#F8766D"/><circle cx="488.5" cy="335.28" r="2.5" fill="#F8766D"/><circle cx="516.5" cy="339.43" r="2.5" fill="#F8766D"/><circle cx="543.5" cy="335.28" r="2.5" fill="#F8766D"/><circle cx="570.5" cy="339.43" r="2.5" fill="#F8766D"/>
<circle cx="352.5" cy="397.4" r="2.5" fill="#A3A500"/><circle cx="379.5" cy="394.43" r="2.5" fill="#A3A500"/><circle cx="406.5" cy="384.62" r="2.5" fill="#A3A500"/><circle cx="434.5" cy="394.43" r="2.5" fill="#A3A500"/><circle cx="461.5" cy="380.47" r="2.5" fill="#A3A500"/><circle cx="488.5" cy="384.62" r="2.5" fill="#A3A500"/><circle cx="516.5" cy="380.47" r="2.5" fill="#A3A500"/><circle cx="543.5" cy="387.17" r="2.5" fill="#A3A500"/><circle cx="570.5" cy="366.51" r="2.5" fill="#A3A500"/>
<circle cx="352.5" cy="321.32" r="2.5" fill="#00BF7D"/><circle cx="379.5" cy="300.31" r="2.5" fill="#00BF7D"/><circle cx="406.5" cy="314.62" r="2.5" fill="#00BF7D"/><circle cx="434.5" cy="294.23" r="2.5" fill="#00BF7D"/><circle cx="461.5" cy="294.23" r="2.5" fill="#00BF7D"/><circle cx="488.5" cy="294.23" r="2.5" fill="#00BF7D"/><circle cx="516.5" cy="287.39" r="2.5" fill="#00BF7D"/><circle cx="543.5" cy="287.39" r="2.5" fill="#00BF7D"/><circle cx="570.5" cy="262.38" r="2.5" fill="#00BF7D"/>
<circle cx="352.5" cy="377.5" r="2.5" fill="#00B0F6"/><circle cx="379.5" cy="377.5" r="2.5" fill="#00B0F6"/><circle cx="406.5" cy="370.31" r="2.5" fill="#00B0F6"/><circle cx="434.5" cy="363.2" r="2.5" fill="#00B0F6"/><circle cx="461.5" cy="363.2" r="2.5" fill="#00B0F6"/><circle cx="488.5" cy="356.7" r="2.5" fill="#00B0F6"/><circle cx="516.5" cy="349.51" r="2.5" fill="#00B0F6"/><circle cx="543.5" cy="349.51" r="2.5" fill="#00B0F6"/><circle cx="570.5" cy="345.51" r="2.5" fill="#00B0F6"/>
<circle cx="352.5" cy="363.2" r="2.5" fill="#E76BF3"/><circle cx="379.5" cy="363.2" r="2.5" fill="#E76BF3"/><circle cx="406.5" cy="363.2" r="2.5" fill="#E76BF3"/><circle cx="434.5" cy="356.29" r="2.5" fill="#E76BF3"/><circle cx="461.5" cy="349.1" r="2.5" fill="#E76BF3"/><circle cx="488.5" cy="352.21" r="2.5" fill="#E76BF3"/><circle cx="516.5" cy="349.51" r="2.5" fill="#E76BF3"/><circle cx="543.5" cy="342.4" r="2.5" fill="#E76BF3"/><circle cx="570.5" cy="332.17" r="2.5" fill="#E76BF3"/>
<text x="334.7" y="403" font-size="12" letter-spacing="0.33" fill="#4D4D4D" text-anchor="end">15</text>
<text x="334.7" y="369" font-size="12" letter-spacing="0.33" fill="#4D4D4D" text-anchor="end">20</text>
<text x="334.7" y="334" font-size="12" letter-spacing="0.33" fill="#4D4D4D" text-anchor="end">25</text>
<text x="334.7" y="300" font-size="12" letter-spacing="0.33" fill="#4D4D4D" text-anchor="end">30</text>
<text x="334.7" y="265" font-size="12" letter-spacing="0.33" fill="#4D4D4D" text-anchor="end">35</text>
<text x="352.1" y="422" font-size="12" letter-spacing="0.33" fill="#4D4D4D" text-anchor="middle">2016</text>
<text x="406.1" y="422" font-size="12" letter-spacing="0.33" fill="#4D4D4D" text-anchor="middle">2018</text>
<text x="461.1" y="422" font-size="12" letter-spacing="0.33" fill="#4D4D4D" text-anchor="middle">2020</text>
<text x="516.1" y="422" font-size="12" letter-spacing="0.33" fill="#4D4D4D" text-anchor="middle">2022</text>
<text x="570.1" y="422" font-size="12" letter-spacing="0.33" fill="#4D4D4D" text-anchor="middle">2024</text>
<text x="461.2" y="440.2" font-size="14.67" fill="#000" text-anchor="middle">Year</text>
<text transform="translate(313.9,330.8) rotate(-90)" font-size="14.67" fill="#000" text-anchor="middle">$/acre</text>
<text x="461.2" y="245.8" font-size="16" font-weight="bold" fill="#000" text-anchor="middle">Pastureland</text>
<line x1="54.8" y1="472.5" x2="73.4" y2="472.5" stroke="#CB6059" stroke-width="1.0"/>
<circle cx="64.4" cy="472.5" r="2.5" fill="#F8766D"/>
<text x="83.3" y="478" font-size="12" letter-spacing="-0.7" fill="#000">ALABAMA</text>
<line x1="149.8" y1="472.5" x2="168.4" y2="472.5" stroke="#858700" stroke-width="1.0"/>
<circle cx="159.4" cy="472.5" r="2.5" fill="#A3A500"/>
<text x="177.9" y="478" font-size="12" letter-spacing="-0.05" fill="#000">FLORIDA</text>
<line x1="239" y1="472.5" x2="257.6" y2="472.5" stroke="#009C66" stroke-width="1.0"/>
<circle cx="248.6" cy="472.5" r="2.5" fill="#00BF7D"/>
<text x="267.4" y="478" font-size="12" letter-spacing="-0.18" fill="#000">GEORGIA</text>
<line x1="332.8" y1="472.5" x2="351.4" y2="472.5" stroke="#0090C9" stroke-width="1.0"/>
<circle cx="342.4" cy="472.5" r="2.5" fill="#00B0F6"/>
<text x="361" y="478" font-size="12" letter-spacing="-0.08" fill="#000">MISSISSIPPI</text>
<line x1="441.8" y1="472.5" x2="460.4" y2="472.5" stroke="#BD57C7" stroke-width="1.0"/>
<circle cx="451.4" cy="472.5" r="2.5" fill="#E76BF3"/>
<text x="470.5" y="478" font-size="12" letter-spacing="0.06" fill="#000">TENNESSEE</text>
</svg></body></html>
